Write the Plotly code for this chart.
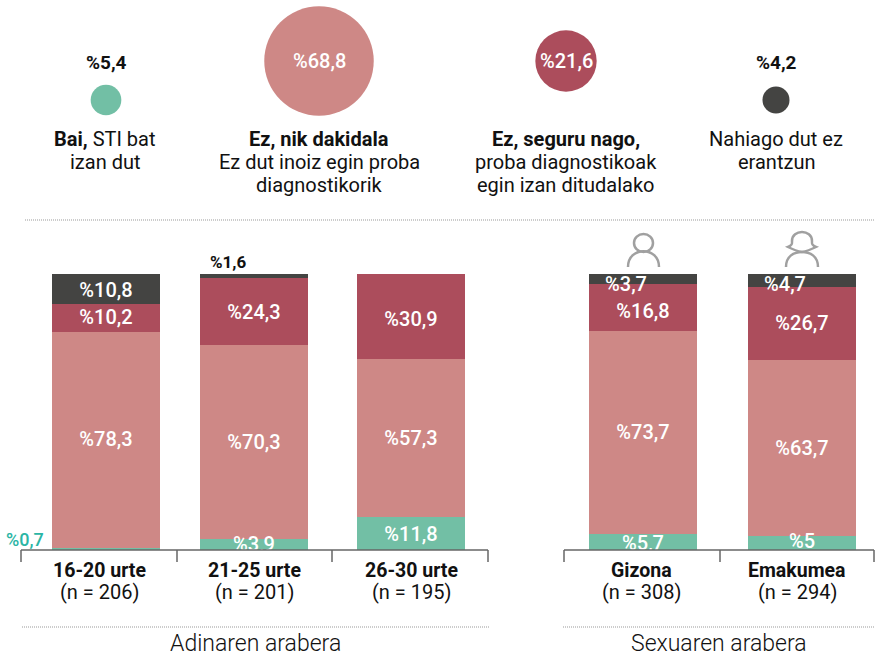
import plotly.graph_objects as go

FONT = "Roboto"
W, H = 875, 655
BASE_PX = 550      # pixel row of the 0 % baseline
PX_PER_PCT = 2.76

# ---- data ----
groups = ["16-20 urte", "21-25 urte", "26-30 urte", "Gizona", "Emakumea"]
group_n = ["(n = 206)", "(n = 201)", "(n = 195)", "(n = 308)", "(n = 294)"]
bai = [0.7, 3.9, 11.8, 5.7, 5.0]
ez_dakidala = [78.3, 70.3, 57.3, 73.7, 63.7]
ez_seguru = [10.2, 24.3, 30.9, 16.8, 26.7]
ez_erantzun = [10.8, 1.6, 0.0, 3.7, 4.7]

overall_values = [5.4, 68.8, 21.6, 4.2]
overall_labels = ["%5,4", "%68,8", "%21,6", "%4,2"]
overall_text = [
    ["<b>Bai,</b> STI bat", "izan dut"],
    ["<b>Ez, nik dakidala</b>", "Ez dut inoiz egin proba", "diagnostikorik"],
    ["<b>Ez, seguru nago,</b>", "proba diagnostikoak", "egin izan ditudalako"],
    ["Nahiago dut ez", "erantzun"],
]
section_titles = ["Adinaren arabera", "Sexuaren arabera"]

# ---- layout / style ----
series_colors = ["#72BFA5", "#CE8886", "#AC4D5C", "#444442"]
bar_x = [106, 254, 411, 643, 802]
bar_w = 108
group_label_x = [99, 254, 411, 641, 797]
seg_label_dx = [[0, 0, 0, 0, 0], [0, 0, 0, 0, 0], [0, 0, 0, 0, 0], [0, 0, 0, -17, -17]]
seg_label_dy = [[0, -0.4, -0.7, -1.0, 0], [-0.4, -0.7, -0.7, -0.4, -0.7],
                [-0.4, -1.0, -1.4, -1.8, -0.7], [-1.0, 0, 0, -2.5, -2.2]]
bubble_x = [106, 319, 566, 776]
bubble_y = [100, 61, 61, 100]
overall_text_x = [105, 319, 566, 776]


def fmt(v):
    s = f"{v:.1f}".replace(".", ",")
    return "%" + s[:-2] if s.endswith(",0") else "%" + s


series = [bai, ez_dakidala, ez_seguru, ez_erantzun]
fig = go.Figure()

for vals, col in zip(series, series_colors):
    fig.add_trace(go.Bar(x=bar_x, y=vals, width=bar_w, marker=dict(color=col, line=dict(width=0)),
                         showlegend=False, hoverinfo="skip"))

# segment labels, centred on each segment
tx, ty, tt = [], [], []
cum = [0.0] * 5
for si, vals in enumerate(series):
    for i, v in enumerate(vals):
        small = v == 0 or (si == 0 and v < 1) or (si == 3 and v < 2)
        if not small:
            tx.append(bar_x[i] + seg_label_dx[si][i])
            ty.append(cum[i] + v / 2 + seg_label_dy[si][i])
            tt.append(fmt(v))
        cum[i] += v
fig.add_trace(go.Scatter(x=tx, y=ty, text=tt, mode="text", cliponaxis=True, showlegend=False,
                         hoverinfo="skip",
                         textfont=dict(family=FONT, size=20, color="#FFFFFF", weight=500)))

# overall bubbles on the pixel-like second axis
fig.add_trace(go.Scatter(x=bubble_x, y=bubble_y, xaxis="x", yaxis="y2", mode="markers",
                         showlegend=False, hoverinfo="skip",
                         marker=dict(size=overall_values, sizemode="area", sizeref=2 / 13.2**2, opacity=1,
                                     color=series_colors, line=dict(width=0))))

ann = []


def note(x, y, text, size=20, color="#111111", weight=None, height=None):
    f = dict(family=FONT, size=size, color=color)
    if weight:
        f["weight"] = weight
    a = dict(x=x, y=y, xref="x", yref="y2", text=text, showarrow=False, xanchor="center",
             yanchor="middle", align="center", font=f)
    if height:
        a["height"] = height
    ann.append(a)


note(bubble_x[0], 62, overall_labels[0], size=19, weight=700)
note(bubble_x[1], 61, overall_labels[1], color="#FFFFFF", weight=500)
note(bubble_x[2], 61, overall_labels[2], color="#FFFFFF", weight=500)
note(bubble_x[3], 62, overall_labels[3], size=19, weight=700)
for x, lines in zip(overall_text_x, overall_text):
    for k, t in enumerate(lines):
        note(x, 139 + 23 * k, t)
for x, g, n in zip(group_label_x, groups, group_n):
    note(x, 570, f"<b>{g}</b>", size=19.5)
    note(x, 592, n)
note(255, 643, section_titles[0], size=23, weight=300, height=24)
note(719, 643, section_titles[1], size=23, weight=300, height=24)
note(25, 539, fmt(bai[0]), size=18, color="#2BB5A5", weight=500)
note(228, 262, fmt(ez_erantzun[1]), size=17, weight=700)

shapes = []


def line(x0, y0, x1, y1, color="#666666", width=1.5, dash=None):
    shapes.append(dict(type="line", xref="x", yref="y2", x0=x0, y0=y0, x1=x1, y1=y1,
                       line=dict(color=color, width=width, dash=dash)))


for x0, x1, ticks in [(21, 488, [21, 177, 332, 488]), (564, 874, [564, 720, 874])]:
    line(x0, 550, x1, 550)
    for t in ticks:
        line(t, 550, t, 562)
for x0, x1, y in [(25, 875, 220), (22, 489, 627), (563, 875, 627)]:
    line(x0, y, x1, y, color="#999999", width=1, dash="1px,1px")

icon = dict(type="path", xref="x", yref="y2", line=dict(color="#A0A0A0", width=2.5))
shapes.append(dict(icon, type="circle", x0=634, x1=653, y0=234, y1=252))
shapes.append(dict(icon, path="M 628 267 C 628 246 659 246 659 267"))
shapes.append(dict(icon, path="M 786 267 C 786 256 794 252 802 252 C 810 252 818 256 818 267"))
shapes.append(dict(icon, path="M 788 247 C 793 245 792 243 792 241 C 792 229 812 229 812 241 "
                               "C 812 243 811 245 816 247 C 812 249 808 251 802 252 C 796 251 792 249 788 247 Z"))

fig.update_layout(
    width=W, height=H, barmode="stack", margin=dict(l=0, r=0, t=0, b=0),
    paper_bgcolor="white", plot_bgcolor="rgba(0,0,0,0)", showlegend=False,
    font=dict(family=FONT),
    xaxis=dict(range=[0, W], domain=[0, 1], visible=False, fixedrange=True),
    yaxis=dict(range=[0, BASE_PX / PX_PER_PCT], domain=[(H - BASE_PX) / H, 1], visible=False, fixedrange=True),
    yaxis2=dict(range=[H, 0], domain=[0, 1], anchor="x", visible=False, fixedrange=True),
    annotations=ann, shapes=shapes,
)
fig.write_html("out.html", post_script="document.body.style.margin='0';", config={"displayModeBar": False})
